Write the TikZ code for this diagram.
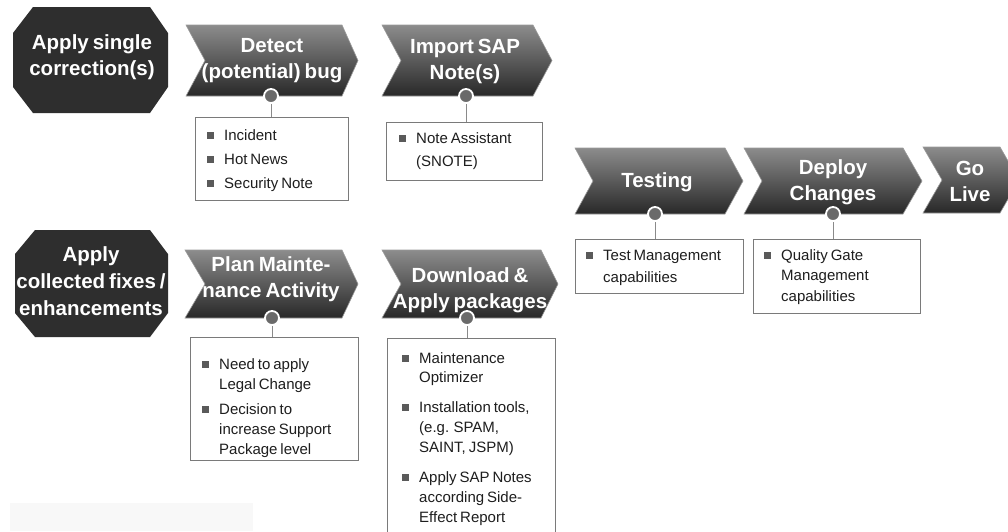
\documentclass[tikz,border=0pt]{standalone}
\usepackage{fontspec}
\setmainfont{Liberation Sans}[WordSpace={0.7,0.5,0.5}]
\definecolor{chevtop}{HTML}{8C8C8C}
\definecolor{chevbot}{HTML}{282828}
\definecolor{chevedge}{HTML}{9A9A9A}
\definecolor{octfill}{HTML}{2E2E2E}
\definecolor{dotgray}{HTML}{6A6A6A}
\definecolor{conngray}{HTML}{8A8A8A}
\definecolor{boxgray}{HTML}{7A7A7A}
\definecolor{bulgray}{HTML}{5A5A5A}
\definecolor{itemtext}{HTML}{1E1E1E}
\definecolor{faint}{HTML}{F8F8F8}
\newcommand\bsq{\textcolor{bulgray}{\rule[0.8pt]{7pt}{7pt}}}
\newcommand\bi[1]{\makebox[17pt][l]{\bsq}#1}
\newcommand\ind{\hspace*{17pt}}
\begin{document}
\begin{tikzpicture}[x=1pt,y=-1pt,
  chev/.style={top color=chevtop, bottom color=chevbot, draw=chevedge, line width=0.6pt},
  oct/.style={fill=octfill},
  head/.style={text=white, font=\fontsize{20.5}{26}\selectfont\bfseries, align=center, inner sep=0pt},
  dot/.style={circle, fill=dotgray, draw=white, line width=1.8pt, minimum size=14pt, inner sep=0pt},
  conn/.style={draw=conngray, line width=1pt},
  box/.style={draw=boxgray, line width=1pt, fill=white, inner sep=0pt, anchor=north west},
  items/.style={font=\fontsize{15}{20}\selectfont, text=itemtext, align=left, inner sep=0pt, anchor=north west}]
\useasboundingbox (0,0) rectangle (1008,531);
\clip (0,0) rectangle (1008,531);
\fill[white] (0,0) rectangle (1008,531);
\fill[faint] (10,503) rectangle (253,531);

% octagons
\path[oct] (33,7) -- (150,7) -- (168,33) -- (168,87) -- (150,113) -- (33,113) -- (13,87) -- (13,33) -- cycle;
\node[head] (o1) at (92,57) {Apply single\\correction(s)};
\path[oct] (35,230) -- (150,230) -- (168,254) -- (168,313) -- (150,337) -- (35,337) -- (15,313) -- (15,254) -- cycle;
\node[head, font=\fontsize{20.5}{27}\selectfont\bfseries] (o2) at (91,281) {Apply\\collected fixes /\\enhancements};

% chevrons
\path[chev] (186,25) -- (342,25) -- (358,60.5) -- (342,96) -- (186,96) -- (205,60.5) -- cycle;
\node[head] (h1) at (272,61) {Detect\\(potential) bug};
\path[chev] (382,25) -- (533,25) -- (552,60.5) -- (533,96) -- (382,96) -- (401,60.5) -- cycle;
\node[head] (h2) at (465,61) {Import SAP\\Note(s)};
\path[chev] (575,148) -- (725,148) -- (743,181) -- (725,214) -- (575,214) -- (593,181) -- cycle;
\node[head] (h3) at (657,182) {Testing};
\path[chev] (744,148) -- (903,148) -- (922,181) -- (903,214) -- (744,214) -- (762,181) -- cycle;
\node[head] (h4) at (833,182) {Deploy\\Changes};
\path[chev] (923,147) -- (1000,147) -- (1019,180) -- (1000,213) -- (923,213) -- (942,180) -- cycle;
\node[head] (h5) at (970,181) {Go\\Live};
\path[chev] (185,250) -- (342,250) -- (358,284) -- (342,318) -- (185,318) -- (205,284) -- cycle;
\node[head] (h6) at (271,279) {Plan Mainte-\\nance Activity};
\path[chev] (382,250) -- (541,250) -- (558,284) -- (541,318) -- (382,318) -- (401,284) -- cycle;
\node[head] (h7) at (470,290) {Download \&\\Apply packages};

% boxes
\node[box, minimum width=153pt, minimum height=83pt] (b1) at (195,117) {};
\node[box, minimum width=156pt, minimum height=58pt] (b2) at (386,122) {};
\node[box, minimum width=168pt, minimum height=54pt] (b3) at (575,239) {};
\node[box, minimum width=167pt, minimum height=74pt] (b4) at (753,239) {};
\node[box, minimum width=168pt, minimum height=123pt] (b5) at (190,337) {};
\node[box, minimum width=168pt, minimum height=210pt] (b6) at (387,338) {};

% connectors and dots
\coordinate (p1) at (271,96);
\coordinate (p2) at (466,96);
\coordinate (p3) at (655,214);
\coordinate (p4) at (833,214);
\coordinate (p5) at (272,318);
\coordinate (p6) at (467,318);
\foreach \i in {1,...,6}{
  \draw[conn] (p\i) -- (p\i |- b\i.north);
  \node[dot] (d\i) at (p\i) {};
}

% items
\node[items] (t1) at (207,126) {\strut\bi{Incident}\\[4pt]\bi{Hot News}\\[4pt]\bi{Security Note}};
\node[items] (t2) at (399,129) {\strut\bi{Note Assistant}\\[3pt]\ind(SNOTE)};
\node[items] (t3) at (586,246) {\strut\bi{Test Management}\\[2pt]\ind capabilities};
\node[items] (t4) at (764,246) {\strut\bi{Quality Gate}\\[0.5pt]\ind Management\\[0.5pt]\ind capabilities};
\node[items] (t5) at (202,355) {\strut\bi{Need to apply}\\\ind Legal Change\\[5pt]\bi{Decision to}\\\ind increase Support\\\ind Package level};
\node[items] (t6) at (402,349) {\strut\bi{Maintenance}\\[-1pt]\ind Optimizer\\[10pt]\bi{Installation tools,}\\\ind (e.g. SPAM,\\\ind SAINT, JSPM)\\[10pt]\bi{Apply SAP Notes}\\\ind according Side-\\\ind Effect Report};
\end{tikzpicture}
\end{document}
